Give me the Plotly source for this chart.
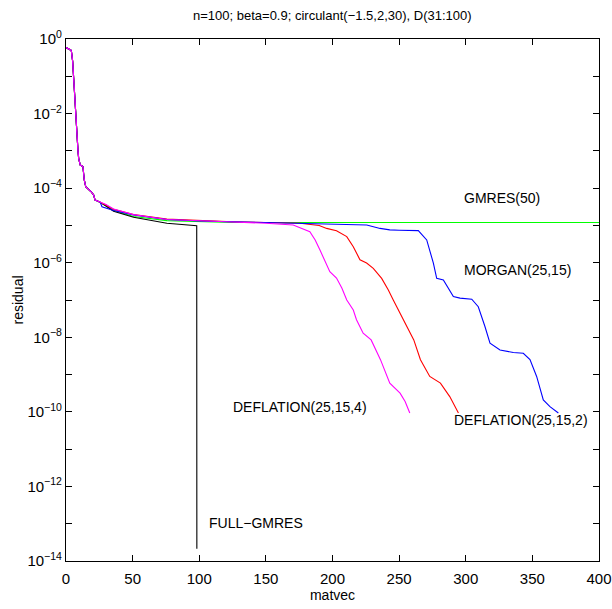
import plotly.graph_objects as go

# Common early part (all methods share it until ~25 matvecs)
common_x = [0, 2, 3.7, 4.1, 5, 6, 7, 8, 9, 9.5, 10.7, 12.7, 13.7, 14.8, 16.2, 18.7, 20.7, 21.8, 23.2, 25.7]
common_log = [-0.23, -0.26, -0.30, -0.34, -0.6, -1.2, -1.9, -2.5, -3.0, -3.2, -3.38, -3.42, -3.78, -3.96, -4.0, -4.09, -4.18, -4.32, -4.34, -4.38]

# FULL-GMRES (black)
full_x = [30, 35.7, 50.7, 75.7, 98.1, 98.2]
full_log = [-4.48, -4.62, -4.78, -4.94, -5.01, -13.67]

# GMRES(50) (green)
gm_x = [30, 35.7, 50.7, 75.7, 100, 125, 150, 200, 250, 300, 350, 400]
gm_log = [-4.47, -4.6, -4.76, -4.87, -4.9, -4.92, -4.92, -4.92, -4.92, -4.92, -4.92, -4.92]

# MORGAN(25,15) (blue)
mo_x = [27, 30, 35.7, 50.7, 75.7, 100, 125, 150, 175.6, 200, 225.7, 235.7, 243, 250, 264.4, 270.7, 275.7, 278.2,
        283.2, 290.7, 295.7, 304.5, 309.4, 314.4, 318.2, 325.7, 335.7, 343.2, 348.2, 353.2, 358.2, 363.2, 369.5]
mo_log = [-4.5, -4.53, -4.6, -4.72, -4.84, -4.88, -4.9, -4.92, -4.94, -4.96, -4.99, -5.08, -5.12, -5.13, -5.14, -5.39,
          -6.01, -6.42, -6.46, -6.91, -6.95, -6.98, -7.18, -7.71, -8.16, -8.34, -8.41, -8.43, -8.6, -9.05, -9.68, -9.86, -10.03]

# DEFLATION(25,15,2) (red)
d2_x = [30, 35.7, 50.7, 75.7, 100, 125, 150, 175.6, 190, 195.6, 203, 210.7, 215.6, 220.6, 225.6, 230.6, 236.9, 241.9,
        245.6, 250.6, 256, 261, 266, 273, 281, 288, 294.5]
d2_log = [-4.45, -4.57, -4.71, -4.83, -4.87, -4.9, -4.92, -4.94, -5.0, -5.08, -5.14, -5.3, -5.57, -5.92, -6.01, -6.15,
          -6.42, -6.73, -7.0, -7.35, -7.71, -8.07, -8.6, -9.05, -9.23, -9.59, -10.03]

# DEFLATION(25,15,4) (magenta)
d4_x = [30, 35.7, 50.7, 75.7, 100, 125, 150, 170.5, 183, 187, 190.6, 194.4, 198, 203, 207, 210.7, 215.6, 218,
        223, 229, 236, 243, 250.7, 254.5, 258]
d4_log = [-4.44, -4.56, -4.71, -4.84, -4.88, -4.91, -4.94, -4.99, -5.17, -5.39, -5.66, -5.97, -6.24, -6.41, -6.68, -7.0,
          -7.27, -7.53, -7.89, -8.07, -8.6, -9.23, -9.5, -9.72, -10.03]

labels = ["GMRES(50)", "MORGAN(25,15)", "DEFLATION(25,15,4)", "DEFLATION(25,15,2)", "FULL\u2212GMRES"]
label_x = [297, 297, 124, 290, 106]
label_log = [-4.26, -6.19, -9.87, -10.21, -12.98]

xticks = [0, 50, 100, 150, 200, 250, 300, 350, 400]
ytick_exps = [0, -2, -4, -6, -8, -10, -12, -14]
yminor_exps = [-1, -3, -5, -7, -9, -11, -13]

FONT = "Liberation Sans, Arial, Helvetica, sans-serif"


def series(x, lg):
    return common_x + x, [10 ** v for v in common_log + lg]


fig = go.Figure()
specs = [(gm_x, gm_log, "#00ff00"), (full_x, full_log, "black"), (d2_x, d2_log, "red"),
         (mo_x, mo_log, "blue"), (d4_x, d4_log, "magenta")]
for xs, ls, col in specs:
    X, Y = series(xs, ls)
    fig.add_trace(go.Scatter(x=X, y=Y, mode="lines", line=dict(color=col, width=1.1), showlegend=False))

for t, xx, ll in zip(labels, label_x, label_log):
    fig.add_annotation(x=xx, y=ll, text=t, showarrow=False, xanchor="left", yanchor="middle",
                       font=dict(family=FONT, size=14, color="black"))

fig.update_layout(
    width=612, height=609,
    margin=dict(l=66, r=13, t=39, b=48),
    paper_bgcolor="white", plot_bgcolor="white",
    title=dict(text="n=100; beta=0.9; circulant(\u22121.5,2,30), D(31:100)", x=0.543, xanchor="center",
               y=0.975, yanchor="middle", font=dict(family=FONT, size=13, color="black")),
    font=dict(family=FONT, size=14, color="black"),
)
fig.update_xaxes(range=[0, 400], tickvals=xticks, ticktext=[str(v) for v in xticks],
                 ticks="inside", ticklen=6, tickcolor="black", showline=True, linecolor="black",
                 linewidth=1.2, mirror="allticks", showgrid=False, zeroline=False, automargin=False,
                 tickfont=dict(family=FONT, size=15), ticklabelstandoff=4,
                 title=dict(text="matvec", font=dict(family=FONT, size=14), standoff=3))
fig.update_yaxes(type="log", range=[-14, 0],
                 tickvals=[10.0 ** e for e in ytick_exps],
                 ticktext=["10<sup>%s</sup>" % str(e).replace("-", "\u2212") for e in ytick_exps],
                 minor=dict(tickvals=[10.0 ** e for e in yminor_exps], ticks="inside", ticklen=6,
                            tickcolor="black", showgrid=False),
                 ticks="inside", ticklen=6, tickcolor="black", showline=True, linecolor="black",
                 linewidth=1.2, mirror="allticks", showgrid=False, zeroline=False, automargin=False,
                 tickfont=dict(family=FONT, size=15),
                 title=dict(text="residual", font=dict(family=FONT, size=14), standoff=0))

fig.write_html("out.html", config={"displayModeBar": False},
               post_script="document.body.style.margin='0';document.body.style.padding='0';")
